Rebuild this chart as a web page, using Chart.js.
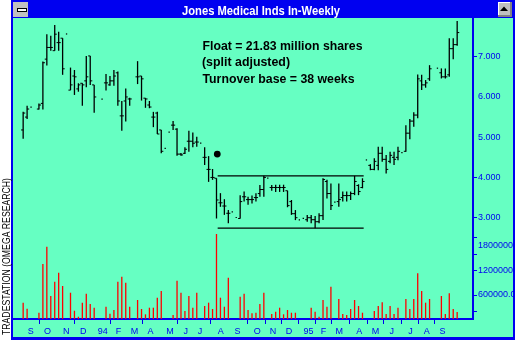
<!DOCTYPE html>
<html>
<head>
<meta charset="utf-8">
<script src="https://cdn.jsdelivr.net/npm/chart.js@4.4.0/dist/chart.umd.min.js"></script>
<style>
  html, body { margin: 0; padding: 0; background: #fff; }
</style>
</head>
<body>
<canvas id="chart" width="515" height="340"></canvas>
<script>
// weekly bars, Aug 1993 -> Sep 1995 (index = week number)
const highs = [5.63, 5.78, 5.75, null, 5.84, 6.88, 7.56, 7.52, 7.79, 7.62,
  7.46, 7.57, 6.73, 6.67, 6.34, 6.34, 7.02, 7.02, 6.30, null,
  5.95, 6.57, 6.52, 6.67, 6.63, 5.90, 6.21, 5.98, null, 6.89,
  6.52, 5.97, 5.90, 5.63, 5.63, 5.18, 4.73, 5.13, 5.40, 5.22,
  4.61, 4.75, 5.16, 5.12, 5.01, 4.86, 4.75, 4.53, 4.21, 3.98,
  3.61, 3.46, 3.19, 3.15, 3.01, 3.56, 3.65, 3.52, 3.55, 3.61,
  3.81, 4.04, 3.99, 3.81, 3.82, 3.82, 3.82, 3.67, 3.44, 3.19,
  2.95, 2.99, 3.07, 3.07, 3.04, 3.11, 3.98, 3.94, 3.85, 3.39,
  3.85, 3.65, 3.65, 3.65, 4.04, 3.83, 3.98, 4.44, 4.33, 4.48,
  4.76, 4.76, 4.56, 4.64, 4.64, 4.76, 4.62, 5.30, 5.45, 5.62,
  6.56, 6.55, 6.42, 6.79, null, 6.72, 6.71, 6.71, 7.46, 7.46,
  7.89];
const lows = [4.96, 5.45, 5.73, null, 5.69, 5.69, 6.78, 7.15, 7.15, 7.15,
  6.55, 7.55, 6.17, 6.05, 6.13, 5.78, 6.24, 6.30, 5.61, null,
  5.93, 6.16, 6.28, 6.28, 5.78, 5.16, 5.39, 5.78, null, 6.32,
  5.91, 5.73, 5.72, 5.25, 5.08, 4.60, 4.71, 5.11, 5.18, 4.54,
  4.54, 4.58, 4.64, 4.75, 4.76, 4.84, 4.31, 3.89, 3.94, 2.98,
  3.27, 3.07, 2.86, 3.13, 2.99, 2.98, 3.40, 3.32, 3.35, 3.40,
  3.52, 3.52, 3.97, 3.67, 3.64, 3.64, 3.64, 3.26, 3.07, 2.94,
  2.93, 2.97, 2.90, 2.86, 2.74, 2.86, 2.94, 3.48, 3.19, 3.37,
  3.27, 3.40, 3.40, 3.44, 3.56, 3.56, 3.73, 4.42, 4.18, 4.18,
  4.18, 4.39, 4.10, 4.35, 4.31, 4.43, 4.60, 4.64, 4.95, 5.26,
  5.47, 6.17, 6.23, 6.40, null, 6.70, 6.46, 6.46, 6.50, 6.94,
  7.27];
const opens = [5.18, 5.50, null, null, 5.70, 5.84, 6.94, 7.23, 7.15, 7.35,
  7.46, null, 6.17, 6.52, 6.20, 6.34, 6.40, 7.02, 6.30, null,
  null, 6.35, 6.30, 6.40, 6.60, 5.53, 5.90, 5.95, null, 6.50,
  6.52, 5.97, 5.80, 5.50, 5.60, 5.18, null, null, 5.30, 5.20,
  4.58, 4.60, 4.90, 4.90, 4.88, null, 4.50, 4.20, 4.00, 3.98,
  3.37, 3.29, 3.11, null, null, 2.98, 3.52, 3.45, 3.45, 3.50,
  3.60, 3.70, null, 3.75, 3.75, 3.75, 3.75, 3.67, 3.40, 3.10,
  null, null, 2.95, 3.00, 2.95, 2.90, 3.05, 3.90, 3.60, null,
  3.40, 3.50, 3.55, 3.55, 3.60, 3.80, 3.75, null, 4.30, 4.20,
  4.30, 4.60, 4.45, 4.40, 4.50, 4.50, null, 4.65, 5.10, 5.40,
  5.55, 6.40, 6.30, 6.45, null, null, 6.60, 6.50, 6.55, 7.20,
  7.30];
const closes = [5.60, 5.70, null, null, 5.80, 6.85, 7.23, 7.23, 7.56, 7.35,
  6.70, null, 6.30, 6.50, 6.30, 6.30, 6.50, 6.40, 6.00, null,
  null, 6.35, 6.40, 6.52, 5.90, 5.53, 6.00, 5.95, null, 6.50,
  6.45, 5.95, 5.75, 5.50, 5.08, 4.65, null, null, 5.30, 4.58,
  4.56, 4.70, 4.90, 4.85, 4.88, null, 4.50, 4.20, 4.00, 3.44,
  3.37, 3.29, 3.11, null, null, 3.40, 3.52, 3.45, 3.45, 3.50,
  3.70, 4.00, null, 3.75, 3.75, 3.75, 3.75, 3.30, 3.10, 3.00,
  null, null, 3.00, 2.95, 2.90, 3.05, 3.95, 3.60, 3.30, null,
  3.45, 3.55, 3.55, 3.60, 3.90, 3.65, 3.90, null, 4.20, 4.40,
  4.60, 4.45, 4.20, 4.55, 4.45, 4.65, null, 5.10, 5.40, 5.55,
  6.45, 6.30, 6.35, 6.70, null, null, 6.50, 6.50, 7.20, 7.30,
  7.60];
// volume en milliers d'actions
const volumesK = [400, 252, 0, 0, 154, 1348, 1771, 564, 914, 1134,
  809, 0, 644, 203, 56, 400, 620, 368, 277, 0,
  0, 301, 130, 220, 914, 1036, 889, 301, 0, 466,
  245, 115, 277, 277, 522, 686, 0, 0, 98, 938,
  644, 196, 564, 277, 644, 0, 319, 400, 245, 2083,
  522, 301, 1012, 0, 0, 546, 620, 220, 140, 154,
  368, 644, 0, 122, 179, 277, 115, 220, 154, 154,
  0, 0, 0, 277, 179, 56, 466, 301, 791, 0,
  490, 122, 98, 245, 466, 319, 154, 0, 0, 196,
  319, 409, 122, 319, 122, 277, 0, 490, 245, 490,
  1120, 686, 400, 490, 0, 0, 564, 122, 630, 245,
  172];

// axe des mois (position en semaines)
const monthLabels = ['S', 'O', 'N', 'D', '94', 'F', 'M', 'A', 'M', 'J', 'J', 'A', 'S',
  'O', 'N', 'D', '95', 'F', 'M', 'A', 'M', 'J', 'J', 'A', 'S'];
const monthWeeks = [1.95, 6.16, 10.95, 15.26, 20.2, 24.16, 28.2, 32.3, 37.2, 41.2, 44.8, 50.1, 54.3,
  59.3, 63.3, 67.4, 72.3, 76.1, 80.1, 85.2, 89.3, 93.4, 98.2, 102.3, 106.3];
const monthMarks = [false, true, false, true, false, true, false, true, false, true, false, true, false,
  true, true, true, true, true, true, true, true, true, true, true, true];

const priceTicks = [3, 4, 5, 6, 7];
const priceMarks = [true, true, false, false, true];
const volLabelsK = [600, 1200, 1800];
const volMarksK = [200, 600, 1200, 1600, 2000];

// turnover base box + signal point
const baseTop = 4.04;
const baseBottom = 2.74;
const baseStartWeek = 49.3;
const baseEndWeek = 86.3;
const signalWeek = 49.2;
const signalPrice = 4.58;

const chartTitle = 'Jones Medical Inds In-Weekly';
const notes = ['Float = 21.83 million shares', '(split adjusted)', 'Turnover base = 38 weeks'];
const sideText = 'TRADESTATION (OMEGA RESEARCH)';

const blue = '#0000f0';
const teal = '#66ffc2';

// construction des jeux de donnees
const priceBars = [], openTicks = [], closeTicks = [], volBars = [];
highs.forEach((h, i) => {
  if (h === null) return;
  priceBars.push({ x: i, y: [lows[i], h] });
  if (opens[i] !== null) openTicks.push({ x: i - 0.25, y: opens[i] });
  if (closes[i] !== null) closeTicks.push({ x: i + 0.25, y: closes[i] });
});
volumesK.forEach((v, i) => {
  if (v > 0) volBars.push({ x: i, y: [0, v] });
});

const frame = {
  id: 'frame',
  beforeDraw(chart) {
    const c = chart.ctx;
    c.save();
    c.fillStyle = '#ffffff';
    c.fillRect(0, 0, 515, 340);
    c.fillStyle = teal;
    c.fillRect(13, 18, 500, 319);
    c.restore();
  },
  afterDraw(chart) {
    const c = chart.ctx;
    const yv = chart.scales.yv;
    c.save();

    // volume labels on right axis
    c.save();
    c.beginPath();
    c.rect(473, 18, 40, 319);
    c.clip();
    c.fillStyle = blue;
    c.font = '9px "Liberation Sans"';
    c.textAlign = 'left';
    c.textBaseline = 'middle';
    volLabelsK.forEach(v => {
      const txt = v === 600 ? '600000.0' : String(v * 1000);
      c.fillText(txt, 478, yv.getPixelForValue(v));
    });
    volMarksK.forEach(v => {
      const y = Math.round(yv.getPixelForValue(v));
      c.fillRect(474, y, 3, 1);
    });
    c.restore();

    // notes
    c.fillStyle = '#000';
    c.font = 'bold 13.5px "Liberation Sans"';
    c.textAlign = 'left';
    c.textBaseline = 'alphabetic';
    c.fillText(notes[0], 202.5, 50, 160);
    c.fillText(notes[1], 202, 66, 88);
    c.fillText(notes[2], 202.5, 83, 152);

    // window frame
    c.fillStyle = blue;
    c.fillRect(11, 0, 504, 18);
    c.fillRect(11, 0, 2, 340);
    c.fillRect(11, 337, 504, 3);
    c.fillRect(513, 0, 2, 340);

    c.fillStyle = '#c0c0c0';
    c.fillRect(13, 2, 15, 15);
    c.fillStyle = '#000';
    c.fillRect(17, 8, 10, 4);
    c.fillStyle = '#fff';
    c.fillRect(18, 9, 8, 2);

    c.fillStyle = '#c0c0c0';
    c.fillRect(498, 2, 14, 15);
    c.fillStyle = '#808080';
    c.fillRect(498, 15, 14, 2);
    c.fillRect(510, 2, 2, 15);
    c.fillStyle = '#fff';
    c.fillRect(498, 2, 12, 1);
    c.fillRect(498, 2, 1, 13);
    c.fillStyle = '#000';
    c.beginPath();
    c.moveTo(504, 6.5);
    c.lineTo(508, 11);
    c.lineTo(500, 11);
    c.closePath();
    c.fill();

    c.fillStyle = '#fff';
    c.font = 'bold 12px "Liberation Sans"';
    c.textAlign = 'center';
    c.fillText(chartTitle, 261, 15, 158);

    // texte vertical a gauche
    c.translate(9.5, 335);
    c.rotate(-Math.PI / 2);
    c.fillStyle = '#000';
    c.font = '10.5px "Liberation Sans"';
    c.textAlign = 'left';
    c.fillText(sideText, 0, 0, 157);
    c.restore();
  }
};

new Chart(document.getElementById('chart').getContext('2d'), {
  type: 'bar',
  data: {
    datasets: [
      {
        type: 'line', data: [{ x: signalWeek, y: signalPrice }], yAxisID: 'y',
        showLine: false, pointRadius: 3.4, pointBackgroundColor: '#000', pointBorderWidth: 0
      },
      {
        type: 'line', data: [{ x: baseStartWeek, y: baseTop }, { x: baseEndWeek, y: baseTop }], yAxisID: 'y',
        borderColor: '#000', borderWidth: 1.2, pointRadius: 0
      },
      {
        type: 'line', data: [{ x: baseStartWeek, y: baseBottom }, { x: baseEndWeek, y: baseBottom }], yAxisID: 'y',
        borderColor: '#000', borderWidth: 1.2, pointRadius: 0
      },
      {
        type: 'line', data: openTicks, yAxisID: 'y', showLine: false,
        pointStyle: 'line', pointRadius: 1.1, pointBorderWidth: 1, pointBorderColor: '#000'
      },
      {
        type: 'line', data: closeTicks, yAxisID: 'y', showLine: false,
        pointStyle: 'line', pointRadius: 1.1, pointBorderWidth: 1, pointBorderColor: '#000'
      },
      {
        type: 'bar', data: priceBars, yAxisID: 'y', grouped: false,
        backgroundColor: '#000', maxBarThickness: 1.3, minBarLength: 1.2
      },
      {
        type: 'bar', data: volBars, yAxisID: 'yv', grouped: false,
        backgroundColor: '#ff0000', maxBarThickness: 1.3
      }
    ]
  },
  options: {
    responsive: false,
    animation: false,
    devicePixelRatio: 1,
    events: [],
    layout: { padding: { left: 13, top: 19, right: 0, bottom: 0 } },
    plugins: { legend: { display: false }, tooltip: { enabled: false }, title: { display: false } },
    scales: {
      x: {
        type: 'linear', position: 'bottom', min: -0.243, max: 111.68,
        afterBuildTicks: s => { s.ticks = monthWeeks.map(v => ({ value: v })); },
        afterFit: s => { s.height = 21; },
        ticks: {
          autoSkip: false, maxRotation: 0, padding: 2, color: blue,
          font: { family: 'Liberation Sans', size: 9 },
          callback: (v, i) => monthLabels[i]
        },
        grid: {
          drawOnChartArea: false, tickLength: 5,
          color: ctx => monthMarks[ctx.index] ? blue : 'rgba(0,0,0,0)'
        },
        border: { color: blue, width: 2 }
      },
      y: {
        type: 'linear', position: 'right', min: 0.483, max: 7.937,
        afterBuildTicks: s => { s.ticks = priceTicks.map(v => ({ value: v })); },
        afterFit: s => { s.width = 42; },
        ticks: {
          padding: 1, color: blue,
          font: { family: 'Liberation Sans', size: 9 },
          callback: v => v.toFixed(3)
        },
        grid: {
          drawOnChartArea: false, tickLength: 4,
          color: ctx => priceMarks[ctx.index] ? blue : 'rgba(0,0,0,0)'
        },
        border: { color: blue, width: 2 }
      },
      yv: {
        type: 'linear', display: false, min: 0, max: 7350
      }
    }
  },
  plugins: [frame]
});
</script>
</body>
</html>
